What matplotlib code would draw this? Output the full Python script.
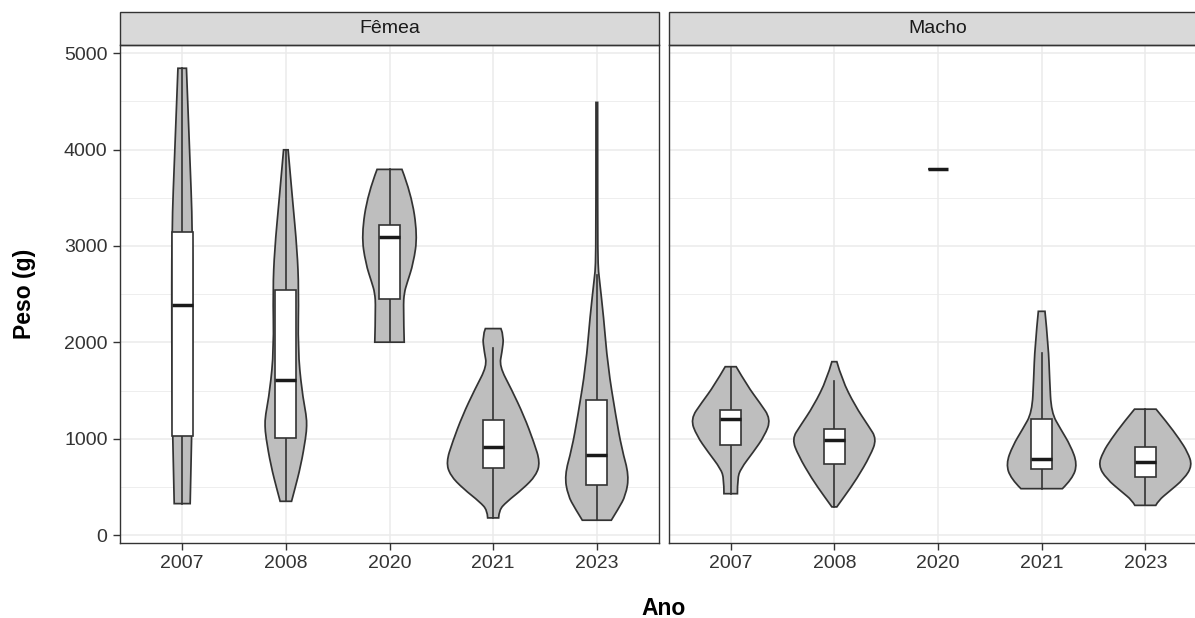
import matplotlib.pyplot as plt
from matplotlib.path import Path
from matplotlib.patches import PathPatch, Rectangle

plt.rcParams["font.family"] = ["Liberation Sans", "DejaVu Sans"]

anos = ["2007", "2008", "2020", "2021", "2023"]
sexos = ["Fêmea", "Macho"]

# violin outlines: weight (g) and half width (x units)
f2007_peso = [330, 1031, 2000, 3150, 4000, 4842]
f2007_larg = [0.077, 0.093, 0.101, 0.101, 0.071, 0.041]
f2008_peso = [354, 453, 725, 1020, 1137, 1240, 1500, 1928, 2546, 2959, 3474, 3997]
f2008_larg = [0.055, 0.080, 0.145, 0.193, 0.202, 0.198, 0.154, 0.116, 0.125, 0.109, 0.065, 0.022]
f2020_peso = [2003, 2374, 2515, 2615, 2822, 3113, 3543, 3794]
f2020_larg = [0.142, 0.133, 0.142, 0.169, 0.231, 0.270, 0.209, 0.120]
f2021_peso = [182, 261, 347, 485, 622, 760, 966, 1240, 1516, 1756, 1900, 2065, 2144]
f2021_larg = [0.053, 0.056, 0.128, 0.289, 0.414, 0.453, 0.393, 0.297, 0.176, 0.060, 0.085, 0.104, 0.075]
f2023_peso = [158, 278, 415, 622, 897, 1240, 1756, 2271, 2684, 2787, 3200, 4488]
f2023_larg = [0.140, 0.209, 0.279, 0.311, 0.241, 0.183, 0.106, 0.065, 0.022, 0.012, 0.008, 0.008]

m2007_peso = [433, 588, 691, 863, 1034, 1206, 1378, 1550, 1749]
m2007_larg = [0.065, 0.065, 0.096, 0.217, 0.328, 0.388, 0.279, 0.161, 0.053]
m2008_peso = [296, 415, 588, 828, 1000, 1137, 1344, 1619, 1801]
m2008_larg = [0.024, 0.104, 0.217, 0.347, 0.409, 0.328, 0.200, 0.072, 0.024]
m2021_peso = [485, 588, 742, 931, 1103, 1275, 1619, 1962, 2323]
m2021_larg = [0.200, 0.297, 0.344, 0.279, 0.183, 0.093, 0.077, 0.065, 0.032]
m2023_peso = [312, 364, 450, 588, 725, 863, 1000, 1172, 1309]
m2023_larg = [0.101, 0.128, 0.224, 0.376, 0.453, 0.409, 0.328, 0.209, 0.104]

# boxplot stats per year
fem_q1 = [1031, 1010, 2454, 701, 519]
fem_med = [2385, 1608, 3096, 914, 835]
fem_q3 = [3147, 2546, 3220, 1199, 1405]
fem_wlo = [330, 354, 2003, 182, 158]
fem_whi = [4842, 3997, 3794, 1938, 2700]

mac_q1 = [941, 742, 3800, 691, 605]
mac_med = [1206, 990, 3800, 794, 763]
mac_q3 = [1302, 1106, 3800, 1206, 920]
mac_wlo = [433, 296, 3800, 485, 312]
mac_whi = [1749, 1601, 3800, 1894, 1309]

fem_violins = [(f2007_peso, f2007_larg), (f2008_peso, f2008_larg), (f2020_peso, f2020_larg),
               (f2021_peso, f2021_larg), (f2023_peso, f2023_larg)]
mac_violins = [(m2007_peso, m2007_larg), (m2008_peso, m2008_larg), None,
               (m2021_peso, m2021_larg), (m2023_peso, m2023_larg)]

EDGE = "#333333"
FILL = "#BEBEBE"


def add_side(pts, verts, codes):
    """Smooth quadratic spline through a list of points (first point already placed)."""
    n = len(pts)
    if n == 2:
        verts.append(pts[1])
        codes.append(Path.LINETO)
        return
    for i in range(1, n - 1):
        if i < n - 2:
            end = ((pts[i][0] + pts[i + 1][0]) / 2, (pts[i][1] + pts[i + 1][1]) / 2)
        else:
            end = pts[n - 1]
        verts += [pts[i], end]
        codes += [Path.CURVE3, Path.CURVE3]


def draw_violin(ax, x0, peso, larg):
    right = [(x0 + w, y) for y, w in zip(peso, larg)]
    left = [(x0 - w, y) for y, w in zip(peso[::-1], larg[::-1])]
    verts = [left[-1], right[0]]
    codes = [Path.MOVETO, Path.LINETO]
    add_side(right, verts, codes)
    verts.append(left[0])
    codes.append(Path.LINETO)
    add_side(left, verts, codes)
    verts.append(left[-1])
    codes.append(Path.CLOSEPOLY)
    ax.add_patch(PathPatch(Path(verts, codes), facecolor=FILL, edgecolor=EDGE,
                           linewidth=1.25, zorder=2))


def draw_box(ax, x0, q1, med, q3, wlo, whi, half=0.1):
    ax.plot([x0, x0], [q3, whi], color=EDGE, lw=1.2, zorder=3)
    ax.plot([x0, x0], [wlo, q1], color=EDGE, lw=1.2, zorder=3)
    ax.add_patch(Rectangle((x0 - half, q1), 2 * half, q3 - q1, facecolor="white",
                           edgecolor=EDGE, linewidth=1.2, zorder=4))
    ax.plot([x0 - half, x0 + half], [med, med], color="#1a1a1a", lw=2.5,
            solid_capstyle="butt", zorder=5)


W, H = 1195, 618
fig = plt.figure(figsize=(W / 100, H / 100), dpi=100)
top, bottom = 45.3, 542.7
ax_h = (bottom - top) / H
ax_f = fig.add_axes([120 / W, 1 - bottom / H, 539 / W, ax_h])
ax_m = fig.add_axes([668.5 / W, 1 - bottom / H, 539 / W, ax_h])

panels = [
    (ax_f, sexos[0], fem_violins, fem_q1, fem_med, fem_q3, fem_wlo, fem_whi),
    (ax_m, sexos[1], mac_violins, mac_q1, mac_med, mac_q3, mac_wlo, mac_whi),
]

strip_h = 33.5 / (bottom - top)
for ax, sexo, violins, q1, med, q3, wlo, whi in panels:
    ax.set_xlim(0.4, 5.6)
    ax.set_ylim(-75, 5080)
    ax.set_xticks(range(1, 6))
    ax.set_xticklabels(anos)
    ax.set_yticks(range(0, 5001, 1000))
    ax.set_yticks(range(500, 5000, 1000), minor=True)
    ax.grid(which="major", color="#EBEBEB", lw=1.1)
    ax.grid(which="minor", axis="y", color="#EBEBEB", lw=0.6)
    ax.set_axisbelow(True)
    for s in ax.spines.values():
        s.set_color(EDGE)
        s.set_linewidth(1.0)
    ax.tick_params(which="major", length=5, width=1, color=EDGE, pad=4,
                   labelsize=14, labelcolor="#333333")
    ax.tick_params(which="minor", length=0)

    for i, v in enumerate(violins):
        x0 = i + 1
        if v is not None:
            draw_violin(ax, x0, v[0], v[1])
        draw_box(ax, x0, q1[i], med[i], q3[i], wlo[i], whi[i])

    ax.add_patch(Rectangle((0, 1), 1, strip_h, transform=ax.transAxes, clip_on=False,
                           facecolor="#D9D9D9", edgecolor=EDGE, linewidth=1.0))
    ax.text(0.5, 1 + strip_h / 2, sexo, transform=ax.transAxes, ha="center",
            va="center", fontsize=14, color="#1a1a1a")

ax_m.tick_params(axis="y", which="both", left=False, labelleft=False)

fig.text(24 / W, 1 - (top + bottom) / 2 / H, "Peso (g)", rotation=90, ha="center",
         va="center", fontsize=16.5, fontweight="bold")
fig.text(664 / W, 1 - 615 / H, "Ano", ha="center", va="baseline", fontsize=16.5,
         fontweight="bold")

fig.savefig("out.png", dpi=100)
